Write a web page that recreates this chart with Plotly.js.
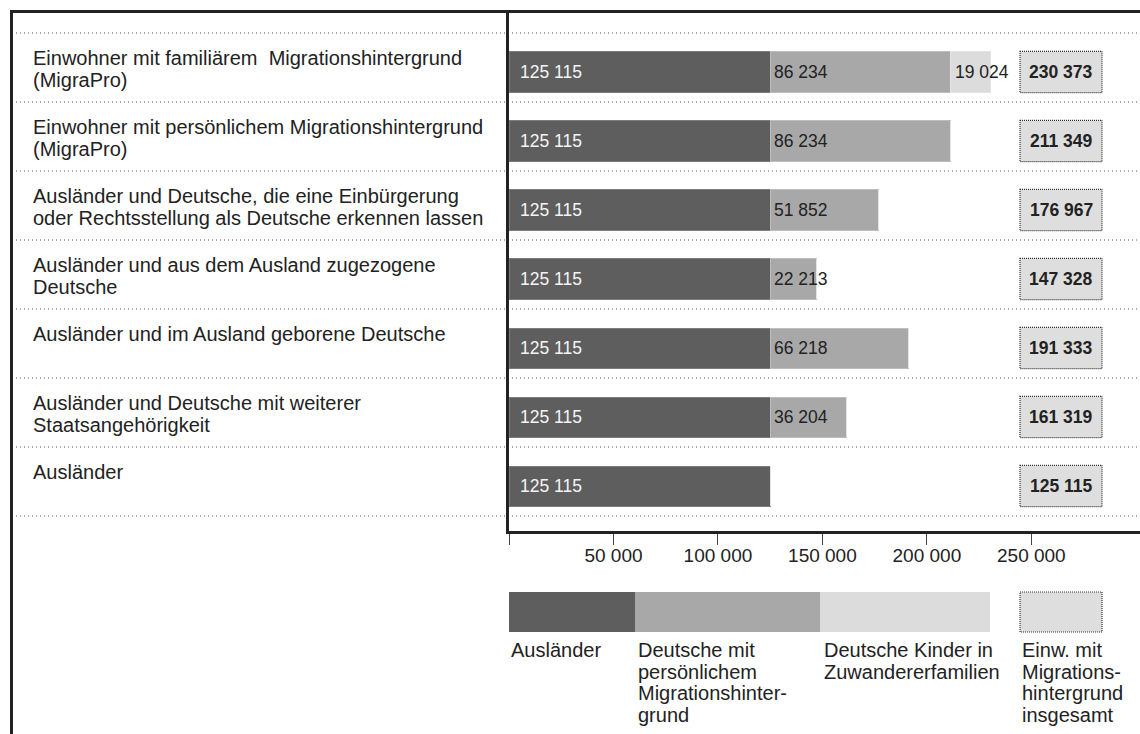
<!DOCTYPE html>
<html>
<head>
<meta charset="utf-8">
<script src="https://cdn.plot.ly/plotly-3.0.1.min.js"></script>
<style>
  html, body { margin: 0; padding: 0; background: #ffffff; }
  #chart { width: 1140px; height: 734px; }
</style>
</head>
<body>
<div id="chart"></div>
<script>
// ---------------- DATA ----------------
const categories = [
  "Einwohner mit familiärem\u00a0 Migrationshintergrund<br>(MigraPro)",
  "Einwohner mit persönlichem Migrationshintergrund<br>(MigraPro)",
  "Ausländer und Deutsche, die eine Einbürgerung<br>oder Rechtsstellung als Deutsche erkennen lassen",
  "Ausländer und aus dem Ausland zugezogene<br>Deutsche",
  "Ausländer und im Ausland geborene Deutsche",
  "Ausländer und Deutsche mit weiterer<br>Staatsangehörigkeit",
  "Ausländer"
];
const auslaender       = [125115, 125115, 125115, 125115, 125115, 125115, 125115];
const deutscheMitMH    = [86234, 86234, 51852, 22213, 66218, 36204, 0];
const kinderZuwanderer = [19024, 0, 0, 0, 0, 0, 0];

const tickValues = [0, 50000, 100000, 150000, 200000, 250000];
const tickLabels = ["", "50 000", "100 000", "150 000", "200 000", "250 000"];

const seriesNames = [
  "Ausländer",
  "Deutsche mit<br>persönlichem<br>Migrationshinter-<br>grund",
  "Deutsche Kinder in<br>Zuwandererfamilien",
  "Einw. mit<br>Migrations-<br>hintergrund<br>insgesamt"
];

// ---------------- STYLE ----------------
const FONT = "Liberation Sans, Arial, Helvetica, sans-serif";
const colors = ["#5e5e5e", "#a8a8a8", "#dcdcdc"];
const edgeColors = ["#7c7c7c", "#bdbdbd", "#e4e4e4"];
const textDark = "#222222";

// plot area in pixels
const L = 509, R = 1140, T = 11, B = 531, W = 1140, H = 734;
const px = v => (v - L) / (R - L);
const py = v => (B - v) / (B - T);

const fmt = n => String(n).replace(/\B(?=(\d{3})+(?!\d))/g, " ");
const totals = categories.map((c, i) => auslaender[i] + deutscheMitMH[i] + kinderZuwanderer[i]);

const barW = 0.58;
const sepOffset = 0.565;

const series = [auslaender, deutscheMitMH, kinderZuwanderer];
const traces = series.map((vals, s) => ({
  type: "bar",
  orientation: "h",
  y: categories,
  x: vals,
  width: barW,
  marker: { color: colors[s], line: { color: edgeColors[s], width: 1 } },
  hoverinfo: "skip",
  showlegend: false
}));

const shapes = [];
const annotations = [];

// separators (dotted)
for (let k = 0; k <= categories.length; k++) {
  shapes.push({
    type: "line", xref: "paper", yref: "y",
    x0: px(12), x1: px(1140), y0: k - sepOffset, y1: k - sepOffset,
    line: { color: "#555555", width: 1, dash: "1px,3px" },
    layer: "below"
  });
}

// category labels (top-anchored lines)
categories.forEach((c, i) => {
  const lines = c.split("<br>");
  lines.forEach((ln, li) => {
    annotations.push({
      xref: "paper", yref: "y",
      x: px(31), y: i - sepOffset,
      xanchor: "left", yanchor: "middle",
      yshift: -(25 + li * 21.5),
      text: ln, showarrow: false,
      font: { family: FONT, size: 20, color: textDark }
    });
  });
});

// in-bar value labels
categories.forEach((c, i) => {
  let base = 0;
  series.forEach((vals, s) => {
    const v = vals[i];
    if (v > 0) {
      annotations.push({
        xref: "x", yref: "y", x: base, y: c,
        xanchor: "left", yanchor: "middle",
        xshift: s === 0 ? 9 : 2,
        text: fmt(v), showarrow: false,
        font: { family: FONT, size: 17.5, color: s === 0 ? "#f4f4f4" : textDark }
      });
    }
    base += v;
  });
});

// total boxes
categories.forEach((c, i) => {
  shapes.push({
    type: "rect", xref: "paper", yref: "y",
    x0: px(1020), x1: px(1102), y0: i - 0.30, y1: i + 0.30,
    fillcolor: "#dedede",
    line: { color: "#333333", width: 1.2, dash: "1px,1px" },
    layer: "above"
  });
  annotations.push({
    xref: "paper", yref: "y", x: px(1061), y: c,
    xanchor: "center", yanchor: "middle",
    text: "<b>" + fmt(totals[i]) + "</b>", showarrow: false,
    font: { family: FONT, size: 17.5, color: textDark }
  });
});

// frame lines
shapes.push({ type: "line", xref: "paper", yref: "paper",
  x0: px(10), x1: px(1140), y0: py(11.5), y1: py(11.5),
  line: { color: "#222222", width: 3 } });
shapes.push({ type: "line", xref: "paper", yref: "paper",
  x0: px(11.5), x1: px(11.5), y0: py(10), y1: py(734),
  line: { color: "#222222", width: 3 } });

// custom legend
const legX = [[509, 635], [635, 820], [820, 990]];
legX.forEach((xx, s) => {
  shapes.push({ type: "rect", xref: "paper", yref: "paper",
    x0: px(xx[0]), x1: px(xx[1]), y0: py(592), y1: py(632),
    fillcolor: colors[s], line: { width: 0 } });
});
shapes.push({ type: "rect", xref: "paper", yref: "paper",
  x0: px(1020), x1: px(1102), y0: py(592), y1: py(632),
  fillcolor: "#dedede", line: { color: "#333333", width: 1.2, dash: "1px,1px" } });

const legTextX = [509, 636, 822, 1020];
seriesNames.forEach((nm, s) => {
  nm.split("<br>").forEach((ln, li) => {
    annotations.push({
      xref: "paper", yref: "paper",
      x: px(legTextX[s]), y: py(650 + li * 21.7),
      xanchor: "left", yanchor: "middle",
      text: ln, showarrow: false,
      font: { family: FONT, size: 20, color: textDark }
    });
  });
});

const layout = {
  width: W, height: H,
  margin: { l: L, r: W - R, t: T, b: H - B, pad: 0 },
  paper_bgcolor: "#ffffff", plot_bgcolor: "#ffffff",
  barmode: "stack",
  bargap: 0,
  showlegend: false,
  font: { family: FONT, color: textDark },
  xaxis: {
    range: [0, 302000],
    tickvals: tickValues, ticktext: tickLabels,
    ticks: "outside", ticklen: 11, tickwidth: 1, tickcolor: "#444444",
    ticklabelstandoff: -6,
    showline: true, linewidth: 3, linecolor: "#222222",
    showgrid: false, zeroline: false,
    tickfont: { family: FONT, size: 19, color: textDark },
    fixedrange: true
  },
  yaxis: {
    type: "category",
    categoryorder: "array", categoryarray: categories,
    range: [6.652, -0.884],
    showticklabels: false, ticks: "",
    showline: true, linewidth: 3, linecolor: "#222222",
    showgrid: false, zeroline: false,
    fixedrange: true
  },
  shapes: shapes,
  annotations: annotations
};

Plotly.newPlot("chart", traces, layout, { displayModeBar: false, staticPlot: true });
</script>
</body>
</html>
